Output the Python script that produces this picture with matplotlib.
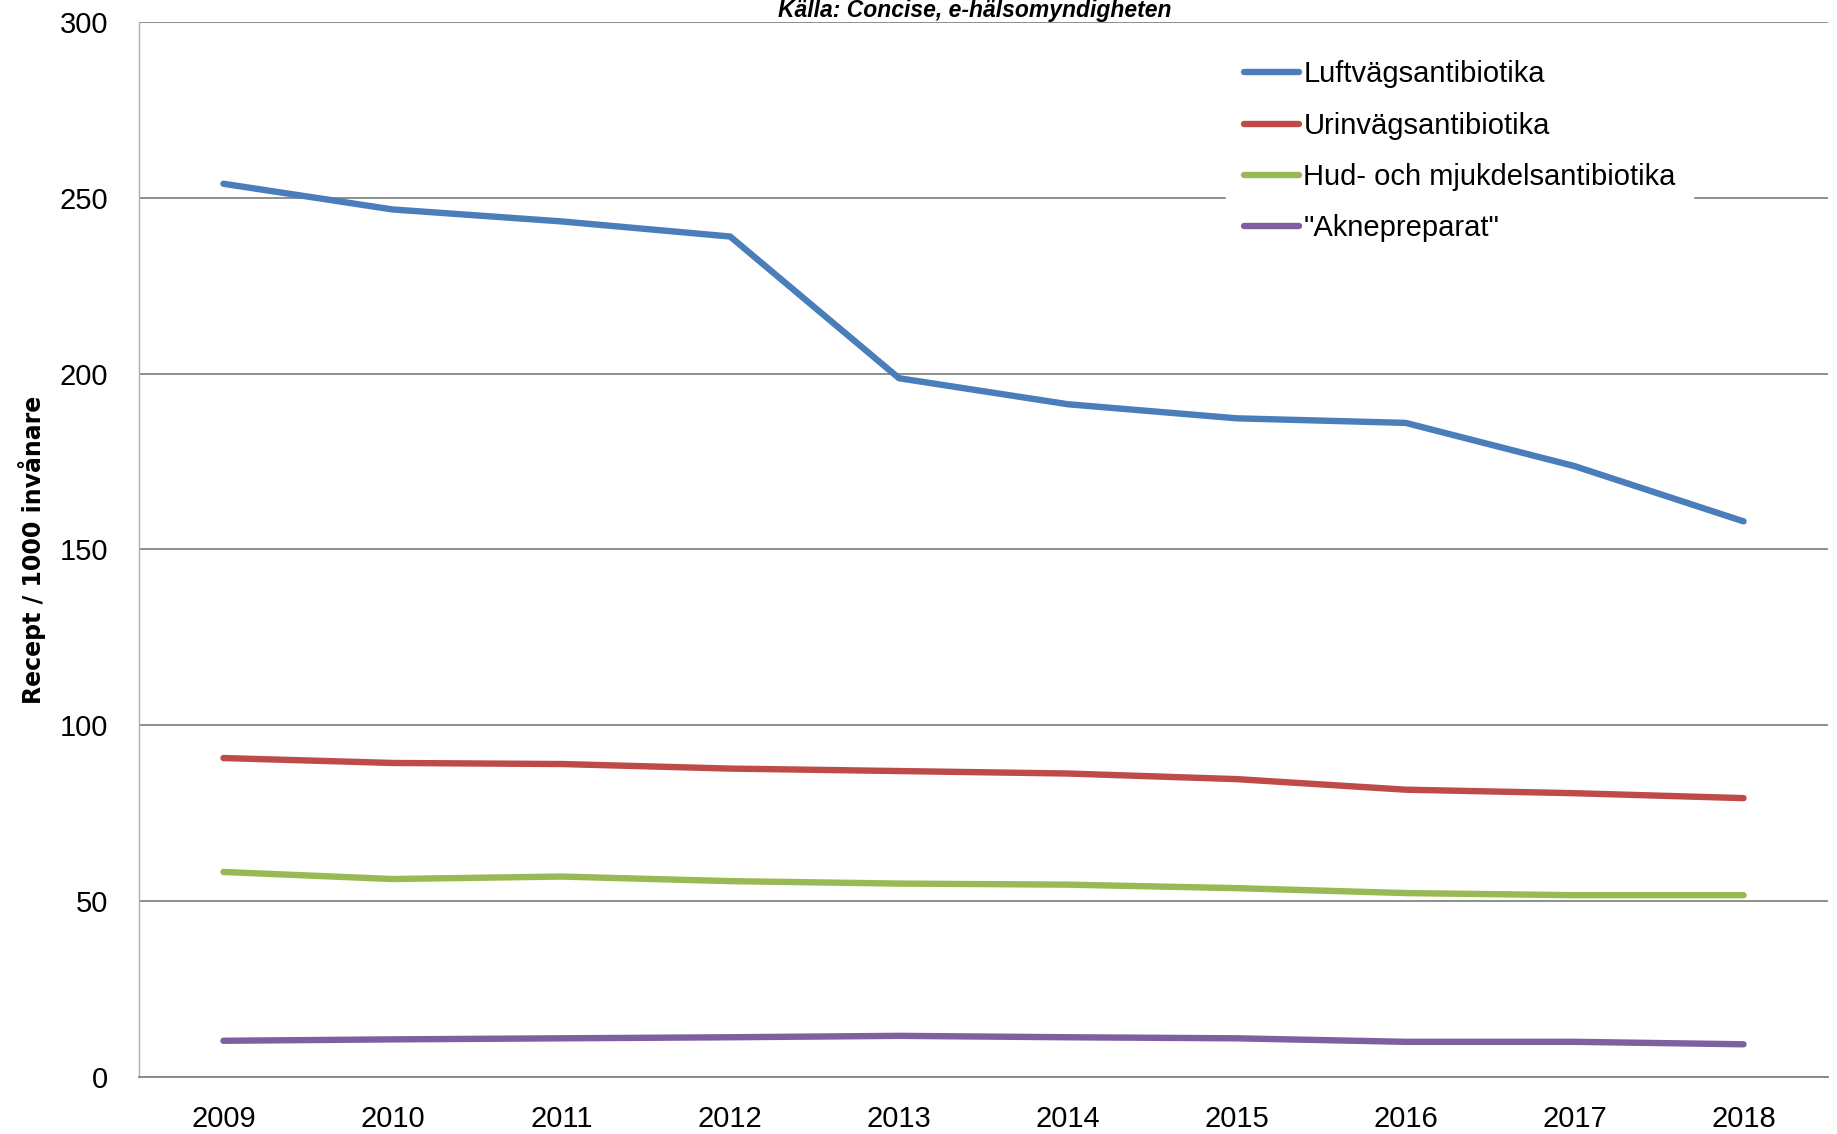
import matplotlib
matplotlib.use("Agg")
from matplotlib import pyplot as plt
import numpy as np

years = ["2009", "2010", "2011", "2012", "2013", "2014", "2015", "2016", "2017", "2018"]
luftvag = [254, 246.7, 243.3, 239, 198.7, 191.3, 187.3, 186, 173.7, 158]
urinvag = [90.7, 89.3, 89, 87.7, 87, 86.3, 84.7, 81.7, 80.7, 79.3]
hud = [58.3, 56.3, 57, 55.7, 55, 54.7, 53.7, 52.3, 51.7, 51.7]
akne = [10.3, 10.7, 11, 11.3, 11.7, 11.3, 11, 10, 10, 9.3]
names = ["Luftvägsantibiotika", "Urinvägsantibiotika", "Hud- och mjukdelsantibiotika", '"Aknepreparat"']
colors = ["#4A7EBB", "#BE4B48", "#98B954", "#7D60A0"]

narrow = ["Liberation Sans", "DejaVu Sans"]

fig = plt.figure(figsize=(18.37, 11.34), dpi=100)
ax = fig.add_axes([139/1837, 1-1077/1134, (1828-139)/1837, (1077-22)/1134])

x = np.arange(len(years))
for vals, name, c in zip([luftvag, urinvag, hud, akne], names, colors):
    ax.plot(x, vals, color=c, lw=4.6, label=name, solid_capstyle="round")

ax.set_xlim(-0.5, len(years)-0.5)
ax.set_ylim(0, 300)
ax.set_yticks(range(0, 301, 50))
ax.set_xticks(x)
ax.set_xticklabels(years, fontfamily=narrow, fontsize=21)
ax.set_yticklabels([str(v) for v in range(0, 301, 50)], fontfamily=narrow, fontsize=21)
ax.tick_params(length=0)
ax.tick_params(axis="y", pad=22)
ax.tick_params(axis="x", pad=20)
ax.grid(axis="y", color="#868686", lw=1.3)
ax.set_axisbelow(True)
for s in ["top", "right"]:
    ax.spines[s].set_visible(False)
ax.spines["left"].set_color("#B0B0B0")
ax.spines["left"].set_linewidth(1)
ax.spines["bottom"].set_color("#868686")
ax.spines["bottom"].set_linewidth(1.3)

ax.set_ylabel("Recept / 1000 invånare", fontsize=17, fontweight="bold", labelpad=10)

fig.text(975/1837, 1-11/1134, "Källa: Concise, e-hälsomyndigheten", ha="center", va="center",
         fontsize=16.5, fontweight="bold", style="italic", fontfamily=narrow)

leg = ax.legend(loc="upper left", bbox_to_anchor=(0.635, 0.994), frameon=True, fancybox=False,
                prop={"family": narrow, "size": 21}, handlelength=1.9, handletextpad=0.15,
                labelspacing=0.8, borderpad=0.6)
leg.get_frame().set_facecolor("white")
leg.get_frame().set_edgecolor("white")
leg.get_frame().set_alpha(1)

fig.savefig("out.png", dpi=100)
